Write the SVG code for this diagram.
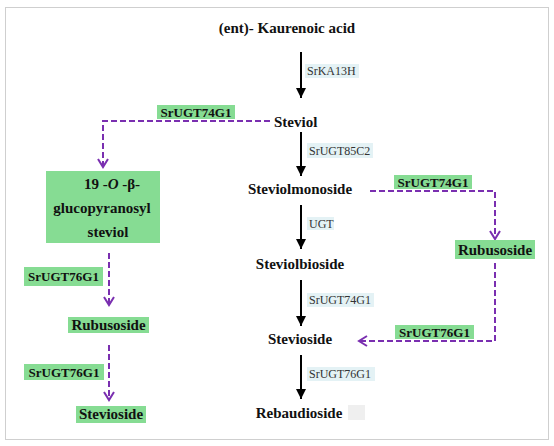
<svg xmlns="http://www.w3.org/2000/svg" width="554" height="446" viewBox="0 0 554 446" font-family="Liberation Serif, Times New Roman, serif">
<style>
.t{font-weight:bold;fill:#111;}
.m{font-size:15px;}
.g{fill:#86dc93;}
.b{fill:#e4f2f5;}
.e{font-size:12px;fill:#333;}
.gl{font-size:13px;}
.ar{stroke:#000;stroke-width:2;fill:none;}
.pd{stroke:#7a2fb0;stroke-width:2;stroke-dasharray:6 3;fill:none;}
</style>
<defs>
<marker id="ab" markerUnits="userSpaceOnUse" markerWidth="12" markerHeight="12" refX="10" refY="5" orient="auto">
<path d="M0,0 L10,5 L0,10 z" fill="#000"/>
</marker>
<marker id="ap" markerUnits="userSpaceOnUse" markerWidth="12" markerHeight="14" refX="9" refY="6" orient="auto">
<path d="M1,1 L9,6 L1,11" fill="none" stroke="#7a2fb0" stroke-width="2"/>
</marker>
</defs>
<rect x="5.5" y="7.5" width="543" height="432" fill="#fff" stroke="#cfcfcf"/>
<g id="connectors">
<line class="ar" x1="301" y1="52" x2="301" y2="98" marker-end="url(#ab)"/>
<line class="ar" x1="301" y1="132" x2="301" y2="176" marker-end="url(#ab)"/>
<line class="ar" x1="301" y1="205" x2="301" y2="249" marker-end="url(#ab)"/>
<line class="ar" x1="301" y1="280" x2="301" y2="326" marker-end="url(#ab)"/>
<line class="ar" x1="301" y1="355" x2="301" y2="399" marker-end="url(#ab)"/>
<path class="pd" d="M270,121 H103 V167" marker-end="url(#ap)"/>
<path class="pd" d="M109,253 V305" marker-end="url(#ap)"/>
<path class="pd" d="M109,345 V400" marker-end="url(#ap)"/>
<path class="pd" d="M370,191 H495 V239" marker-end="url(#ap)"/>
<path class="pd" d="M495,263 V341 H359" marker-end="url(#ap)"/>
</g>
<g id="enzyme-labels">
<rect class="b" x="305" y="64" width="54" height="14"/><text class="e" x="307" y="75">SrKA13H</text>
<rect class="b" x="307" y="143" width="66" height="15"/><text class="e" x="309" y="155">SrUGT85C2</text>
<rect class="b" x="307" y="217" width="27" height="13"/><text class="e" x="309" y="228">UGT</text>
<rect class="b" x="307" y="293" width="67" height="14"/><text class="e" x="309" y="304">SrUGT74G1</text>
<rect class="b" x="307" y="367" width="68" height="14"/><text class="e" x="309" y="378">SrUGT76G1</text>
<rect class="g" x="157" y="105" width="78" height="14"/><text class="t gl" x="196" y="117" text-anchor="middle">SrUGT74G1</text>
<rect class="g" x="394" y="175" width="78" height="14"/><text class="t gl" x="433" y="187" text-anchor="middle">SrUGT74G1</text>
<rect class="g" x="24" y="267" width="79" height="19"/><text class="t gl" x="63.5" y="281" text-anchor="middle">SrUGT76G1</text>
<rect class="g" x="24" y="364" width="80" height="16"/><text class="t gl" x="64" y="377" text-anchor="middle">SrUGT76G1</text>
<rect class="g" x="395" y="325" width="79" height="14"/><text class="t gl" x="434.5" y="337" text-anchor="middle">SrUGT76G1</text>
</g>
<g id="kaurenoic"><text class="t m" x="287" y="33" text-anchor="middle">(ent)- Kaurenoic acid</text></g>
<g id="steviol"><text class="t m" x="274" y="127">Steviol</text></g>
<g id="steviolmonoside"><text class="t m" x="300" y="194" text-anchor="middle">Steviolmonoside</text></g>
<g id="steviolbioside"><text class="t m" x="300" y="269" text-anchor="middle">Steviolbioside</text></g>
<g id="stevioside"><text class="t m" x="300" y="344" text-anchor="middle">Stevioside</text></g>
<g id="rebaudioside"><text class="t m" x="299" y="418" text-anchor="middle">Rebaudioside</text><rect x="348" y="405" width="17" height="15" fill="#efefef"/></g>
<g id="glucopyranosyl-steviol">
<rect class="g" x="46" y="171" width="114" height="72"/>
<text class="t m" x="112" y="189" text-anchor="middle">19 -<tspan font-style="italic">O</tspan> -β-</text>
<text class="t m" x="102" y="213" text-anchor="middle">glucopyranosyl</text>
<text class="t m" x="108" y="237" text-anchor="middle">steviol</text>
</g>
<g id="rubusoside-right"><rect class="g" x="455" y="240" width="80" height="19"/><text class="t m" x="495" y="255" text-anchor="middle">Rubusoside</text></g>
<g id="rubusoside-left"><rect class="g" x="68" y="317" width="81" height="16"/><text class="t m" x="108.5" y="330" text-anchor="middle">Rubusoside</text></g>
<g id="stevioside-left"><rect class="g" x="76" y="406" width="70" height="17"/><text class="t m" x="111" y="419" text-anchor="middle">Stevioside</text></g>
</svg>
